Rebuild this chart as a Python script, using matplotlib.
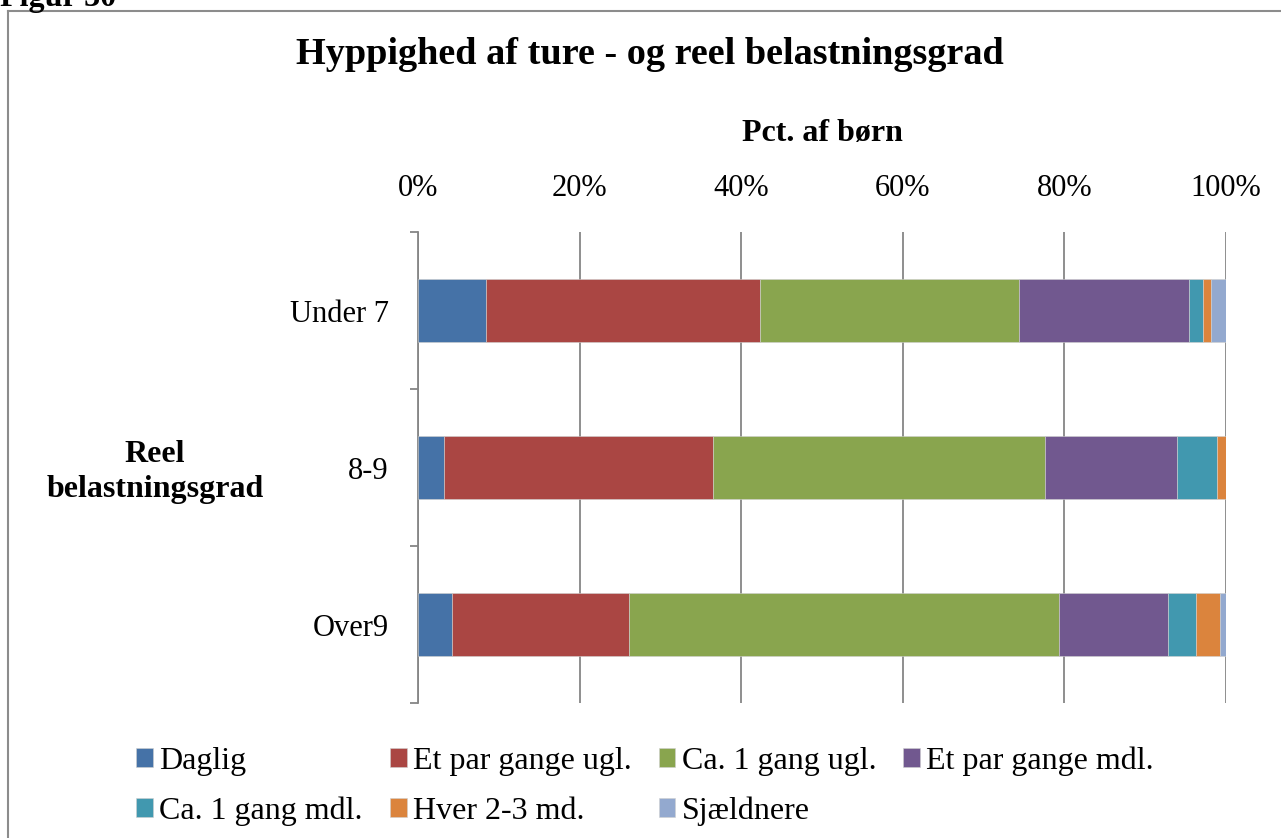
import matplotlib.pyplot as plt
from matplotlib.lines import Line2D
import numpy as np

plt.rcParams['font.family'] = ['Liberation Serif', 'DejaVu Serif']

groups = ['Under 7', '8-9', 'Over9']
series = ['Daglig', 'Et par gange ugl.', 'Ca. 1 gang ugl.', 'Et par gange mdl.',
          'Ca. 1 gang mdl.', 'Hver 2-3 md.', 'Sjældnere']
daglig = [8.4, 3.2, 4.2]
par_ugl = [33.9, 33.3, 21.9]
gang_ugl = [32.1, 41.1, 53.2]
par_mdl = [21.0, 16.3, 13.5]
gang_mdl = [1.8, 5.0, 3.5]
hver = [0.9, 1.1, 3.0]
sjaeldnere = [1.9, 0.0, 0.7]
colors = ['#4572A7', '#AA4643', '#89A54E', '#71588F', '#4198AF', '#DB843D', '#93A9CF']

values = [daglig, par_ugl, gang_ugl, par_mdl, gang_mdl, hver, sjaeldnere]

fig = plt.figure(figsize=(12.81, 8.38), dpi=100)
ax = fig.add_axes([418/1281, 1-703/838, (1226-418)/1281, (703-232)/838])

grey = '#868686'
y = np.arange(len(groups))
left = np.zeros(len(groups))
for name, vals, c in zip(series, values, colors):
    ax.barh(y, vals, left=left, height=0.4, color=c, label=name,
            edgecolor='#d0d0d0', linewidth=0.4, zorder=3)
    left += np.array(vals)

ax.set_xlim(0, 100)
ax.set_ylim(2.5, -0.5)
ax.set_xticks(np.arange(0, 101, 20))
ax.set_xticklabels([f'{v}%' for v in range(0, 101, 20)])
ax.xaxis.tick_top()
ax.tick_params(axis='x', length=0, pad=21, labelsize=22)
ax.grid(axis='x', color=grey, linewidth=1.3, zorder=0)

ax.set_yticks(y)
ax.set_yticklabels(groups)
ax.set_yticks([-0.5, 0.5, 1.5, 2.5], minor=True)
ax.tick_params(axis='y', which='major', length=0, pad=21, labelsize=22)
ax.tick_params(axis='y', which='minor', length=6, width=1.3, color=grey)

for s in ['top', 'right', 'bottom']:
    ax.spines[s].set_visible(False)
ax.spines['left'].set_color(grey)
ax.spines['left'].set_linewidth(1.3)

fig.text(650/1281, 1-55/838, 'Hyppighed af ture - og reel belastningsgrad',
         ha='center', va='center', fontsize=27.5, fontweight='bold')
fig.text(822/1281, 1-133/838, 'Pct. af børn', ha='center', va='center',
         fontsize=23, fontweight='bold')
fig.text(155/1281, 1-472/838, 'Reel\nbelastningsgrad', ha='center', va='center',
         fontsize=23, fontweight='bold', linespacing=1.27)
fig.text(0.0, 1-6/838, 'Figur 30', ha='left', va='baseline',
         fontsize=23, fontweight='bold')

# chart border (left and top edges only visible)
fig.add_artist(Line2D([8/1281, 8/1281], [0, 1-11/838], color='#8c8c8c', linewidth=1.5))
fig.add_artist(Line2D([8/1281, 1], [1-11/838, 1-11/838], color='#8c8c8c', linewidth=1.5))

handles, labels = ax.get_legend_handles_labels()
# reorder so that rows fill left to right
order = [0, 4, 1, 5, 2, 6, 3]
fig.legend([handles[i] for i in order], [labels[i] for i in order],
           loc='upper left', bbox_to_anchor=(136/1281, 1-746/838), ncol=4,
           frameon=False, fontsize=23, handlelength=0.53, handleheight=0.53,
           handletextpad=0.19, columnspacing=0.85, labelspacing=0.66, borderpad=0,
           borderaxespad=0)

fig.savefig('out.png', dpi=100)
